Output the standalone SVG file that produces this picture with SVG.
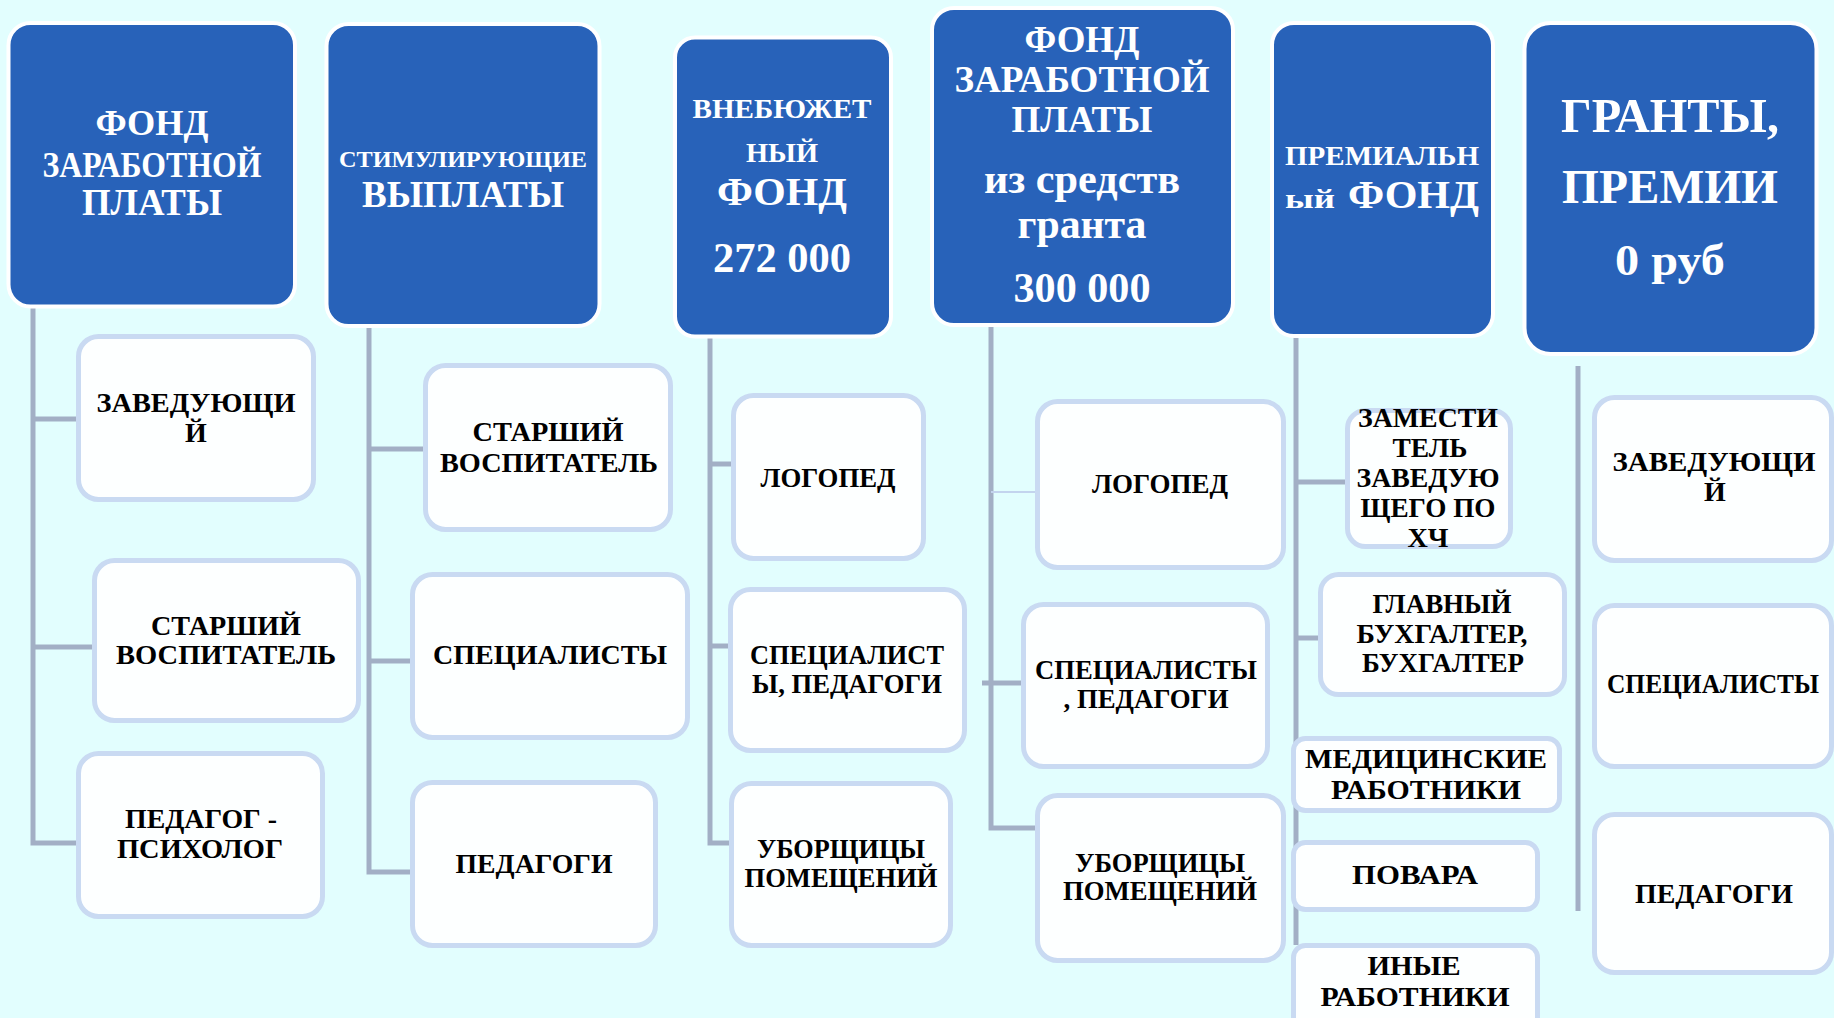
<svg xmlns="http://www.w3.org/2000/svg" width="1834" height="1018" viewBox="0 0 1834 1018">
<style>
.bg{fill:#e2fefe}
.head rect{fill:#2862b9;stroke:#ffffff;stroke-width:4}
.child rect{fill:#fdffff;stroke:#c9daf2;stroke-width:5}
text{font-family:"Liberation Serif","Times New Roman",serif;font-weight:bold;text-anchor:middle}
.head text{fill:#ffffff}
.child text{fill:#000000;font-size:28px}
.conn path{stroke:#a2afc5;stroke-width:5;fill:none}
.conn .thin{stroke:#c3d4ee;stroke-width:2}
</style>
<rect class="bg" x="0" y="0" width="1834" height="1018"/>
<g id="connectors" class="conn">
<path d="M33,306 V843 H80 M33,419 H80 M33,647 H96"/>
<path d="M369,326 V872 H414 M369,449 H427 M369,661 H414"/>
<path d="M710,336 V843 H733 M710,464 H735 M710,646 H732"/>
<path d="M991,325 V828 H1039 M982,683 H1025"/>
<path class="thin" d="M991,492 H1048"/>
<path d="M1296,336 V945 M1296,482 H1349 M1296,638 H1322"/>
<path d="M1578,366 V911"/>
</g>
<g id="n1" class="head"><rect x="8.5" y="23" width="286.5" height="283.5" rx="22"/>
<text x="152" y="135" font-size="35" textLength="113" lengthAdjust="spacingAndGlyphs">ФОНД</text>
<text x="152" y="177" font-size="35" textLength="219" lengthAdjust="spacingAndGlyphs">ЗАРАБОТНОЙ</text>
<text x="152" y="215" font-size="37" textLength="140" lengthAdjust="spacingAndGlyphs">ПЛАТЫ</text></g>
<g id="n2" class="head"><rect x="326.5" y="24" width="273" height="302" rx="22"/>
<text x="463" y="167" font-size="23" textLength="248" lengthAdjust="spacingAndGlyphs">СТИМУЛИРУЮЩИЕ</text>
<text x="463" y="207" font-size="37" textLength="202" lengthAdjust="spacingAndGlyphs">ВЫПЛАТЫ</text></g>
<g id="n3" class="head"><rect x="675" y="37.5" width="216" height="299" rx="20"/>
<text x="782" y="118" font-size="28" textLength="179" lengthAdjust="spacingAndGlyphs">ВНЕБЮЖЕТ</text>
<text x="782" y="162" font-size="28" textLength="72" lengthAdjust="spacingAndGlyphs">НЫЙ</text>
<text x="782" y="205" font-size="40" textLength="130" lengthAdjust="spacingAndGlyphs">ФОНД</text>
<text x="782" y="272" font-size="42" textLength="138" lengthAdjust="spacingAndGlyphs">272 000</text></g>
<g id="n4" class="head"><rect x="932" y="8" width="301" height="317" rx="22"/>
<text x="1082" y="52" font-size="38" textLength="115" lengthAdjust="spacingAndGlyphs">ФОНД</text>
<text x="1082" y="92" font-size="38" textLength="255" lengthAdjust="spacingAndGlyphs">ЗАРАБОТНОЙ</text>
<text x="1082" y="132" font-size="38" textLength="141" lengthAdjust="spacingAndGlyphs">ПЛАТЫ</text>
<text x="1082" y="193" font-size="42" textLength="196" lengthAdjust="spacingAndGlyphs">из средств</text>
<text x="1082" y="238" font-size="42" textLength="129" lengthAdjust="spacingAndGlyphs">гранта</text>
<text x="1082" y="302" font-size="42" textLength="137" lengthAdjust="spacingAndGlyphs">300 000</text></g>
<g id="n5" class="head"><rect x="1272" y="23" width="221" height="313" rx="22"/>
<text x="1382" y="165" font-size="27" textLength="194" lengthAdjust="spacingAndGlyphs">ПРЕМИАЛЬН</text>
<text x="1285" y="208" font-size="27" textLength="50" lengthAdjust="spacingAndGlyphs" style="text-anchor:start">ый</text>
<text x="1348" y="208" font-size="40" textLength="131" lengthAdjust="spacingAndGlyphs" style="text-anchor:start">ФОНД</text></g>
<g id="n6" class="head"><rect x="1524.5" y="23" width="292" height="331" rx="26"/>
<text x="1670" y="132" font-size="48" textLength="218" lengthAdjust="spacingAndGlyphs">ГРАНТЫ,</text>
<text x="1670" y="203" font-size="48" textLength="216" lengthAdjust="spacingAndGlyphs">ПРЕМИИ</text>
<text x="1670" y="275" font-size="44" textLength="110" lengthAdjust="spacingAndGlyphs">0 руб</text></g>
<g id="c1a" class="child"><rect x="78.5" y="336.5" width="235" height="163" rx="20"/>
<text x="196" y="412" textLength="199" lengthAdjust="spacingAndGlyphs">ЗАВЕДУЮЩИ</text>
<text x="196" y="442">Й</text></g>
<g id="c1b" class="child"><rect x="94.5" y="560.5" width="264" height="160" rx="20"/>
<text x="226" y="635" textLength="150" lengthAdjust="spacingAndGlyphs">СТАРШИЙ</text>
<text x="226" y="664" textLength="220" lengthAdjust="spacingAndGlyphs">ВОСПИТАТЕЛЬ</text></g>
<g id="c1c" class="child"><rect x="78.5" y="753.5" width="244" height="163" rx="20"/>
<text x="201" y="828" textLength="152" lengthAdjust="spacingAndGlyphs">ПЕДАГОГ -</text>
<text x="200" y="858" textLength="166" lengthAdjust="spacingAndGlyphs">ПСИХОЛОГ</text></g>
<g id="c2a" class="child"><rect x="425.5" y="365.5" width="245" height="164" rx="20"/>
<text x="548" y="441" textLength="151" lengthAdjust="spacingAndGlyphs">СТАРШИЙ</text>
<text x="549" y="472" textLength="218" lengthAdjust="spacingAndGlyphs">ВОСПИТАТЕЛЬ</text></g>
<g id="c2b" class="child"><rect x="412.5" y="574.5" width="275" height="163" rx="20"/>
<text x="550" y="664" textLength="234" lengthAdjust="spacingAndGlyphs">СПЕЦИАЛИСТЫ</text></g>
<g id="c2c" class="child"><rect x="412.5" y="782.5" width="243" height="163" rx="20"/>
<text x="534" y="873" textLength="157" lengthAdjust="spacingAndGlyphs">ПЕДАГОГИ</text></g>
<g id="c3a" class="child"><rect x="733.5" y="395.5" width="190" height="163" rx="20"/>
<text x="828" y="487" textLength="135" lengthAdjust="spacingAndGlyphs">ЛОГОПЕД</text></g>
<g id="c3b" class="child"><rect x="730.5" y="589.5" width="234" height="161" rx="20"/>
<text x="847" y="664" textLength="194" lengthAdjust="spacingAndGlyphs">СПЕЦИАЛИСТ</text>
<text x="847" y="693" textLength="190" lengthAdjust="spacingAndGlyphs">Ы, ПЕДАГОГИ</text></g>
<g id="c3c" class="child"><rect x="731.5" y="783.5" width="219" height="162" rx="20"/>
<text x="841" y="858" textLength="168" lengthAdjust="spacingAndGlyphs">УБОРЩИЦЫ</text>
<text x="841" y="887" textLength="193" lengthAdjust="spacingAndGlyphs">ПОМЕЩЕНИЙ</text></g>
<g id="c4a" class="child"><rect x="1037.5" y="401.5" width="246" height="166" rx="20"/>
<text x="1160" y="493" textLength="136" lengthAdjust="spacingAndGlyphs">ЛОГОПЕД</text></g>
<g id="c4b" class="child"><rect x="1023.5" y="604.5" width="244" height="162" rx="20"/>
<text x="1146" y="679" textLength="222" lengthAdjust="spacingAndGlyphs">СПЕЦИАЛИСТЫ</text>
<text x="1146" y="708" textLength="165" lengthAdjust="spacingAndGlyphs">, ПЕДАГОГИ</text></g>
<g id="c4c" class="child"><rect x="1037.5" y="795.5" width="246" height="165" rx="20"/>
<text x="1160" y="872" textLength="170" lengthAdjust="spacingAndGlyphs">УБОРЩИЦЫ</text>
<text x="1160" y="900" textLength="194" lengthAdjust="spacingAndGlyphs">ПОМЕЩЕНИЙ</text></g>
<g id="c5a" class="child"><rect x="1347.5" y="410.5" width="163" height="136" rx="18"/>
<text x="1428" y="427" font-size="26" textLength="140" lengthAdjust="spacingAndGlyphs">ЗАМЕСТИ</text>
<text x="1430" y="457" font-size="26" textLength="75" lengthAdjust="spacingAndGlyphs">ТЕЛЬ</text>
<text x="1428" y="487" font-size="26" textLength="143" lengthAdjust="spacingAndGlyphs">ЗАВЕДУЮ</text>
<text x="1428" y="517" font-size="26" textLength="135" lengthAdjust="spacingAndGlyphs">ЩЕГО ПО</text>
<text x="1428" y="547" font-size="26" textLength="41" lengthAdjust="spacingAndGlyphs">ХЧ</text></g>
<g id="c5b" class="child"><rect x="1320.5" y="574.5" width="244" height="120" rx="18"/>
<text x="1442" y="613" font-size="26" textLength="139" lengthAdjust="spacingAndGlyphs">ГЛАВНЫЙ</text>
<text x="1442" y="643" font-size="26" textLength="171" lengthAdjust="spacingAndGlyphs">БУХГАЛТЕР,</text>
<text x="1443" y="672" font-size="26" textLength="162" lengthAdjust="spacingAndGlyphs">БУХГАЛТЕР</text></g>
<g id="c5c" class="child"><rect x="1293.5" y="738.5" width="266" height="72" rx="12"/>
<text x="1426" y="768" font-size="29" textLength="242" lengthAdjust="spacingAndGlyphs">МЕДИЦИНСКИЕ</text>
<text x="1426" y="799" font-size="29" textLength="190" lengthAdjust="spacingAndGlyphs">РАБОТНИКИ</text></g>
<g id="c5d" class="child"><rect x="1293.5" y="842.5" width="244" height="67" rx="12"/>
<text x="1415" y="884" font-size="29" textLength="126" lengthAdjust="spacingAndGlyphs">ПОВАРА</text></g>
<g id="c5e" class="child"><rect x="1293.5" y="945.5" width="244" height="85" rx="12"/>
<text x="1414" y="975" font-size="29" textLength="93" lengthAdjust="spacingAndGlyphs">ИНЫЕ</text>
<text x="1415" y="1006" font-size="29" textLength="189" lengthAdjust="spacingAndGlyphs">РАБОТНИКИ</text></g>
<g id="c6a" class="child"><rect x="1594.5" y="397.5" width="237" height="163" rx="20"/>
<text x="1714" y="471" textLength="203" lengthAdjust="spacingAndGlyphs">ЗАВЕДУЮЩИ</text>
<text x="1715" y="501">Й</text></g>
<g id="c6b" class="child"><rect x="1594.5" y="605.5" width="237" height="161" rx="20"/>
<text x="1713" y="693" font-size="26" textLength="212" lengthAdjust="spacingAndGlyphs">СПЕЦИАЛИСТЫ</text></g>
<g id="c6c" class="child"><rect x="1594.5" y="814.5" width="237" height="158" rx="20"/>
<text x="1714" y="903" textLength="158" lengthAdjust="spacingAndGlyphs">ПЕДАГОГИ</text></g>
</svg>
